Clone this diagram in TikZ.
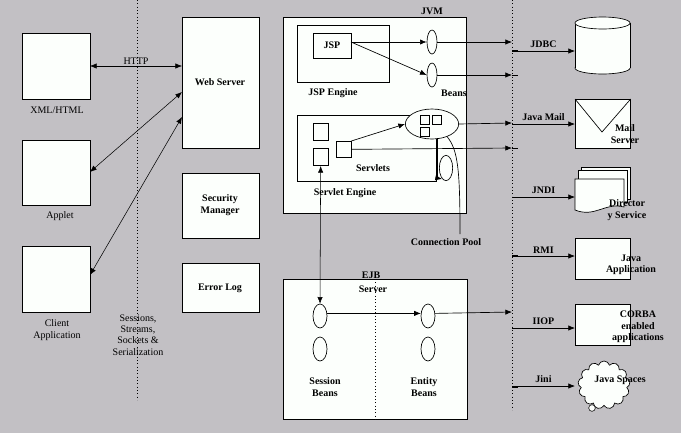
\documentclass[tikz,border=0pt]{standalone}
\usepackage{fontspec}
\setmainfont{Liberation Serif}
\usetikzlibrary{arrows.meta,shapes.symbols,shapes.geometric}
\definecolor{bg}{RGB}{194,192,196}
\definecolor{boxf}{RGB}{252,255,252}
\begin{document}
\begin{tikzpicture}[x=0.75pt,y=-0.75pt,
  box/.style={draw,fill=boxf,line width=0.5pt},
  bean/.style={draw,fill=boxf,ellipse,line width=0.5pt},
  arr/.style={-{Latex[length=5pt,width=4pt]},line width=0.5pt},
  darr/.style={{Latex[length=5pt,width=4pt]}-{Latex[length=5pt,width=4pt]},line width=0.4pt},
  lab/.style={font=\fontsize{7.5}{8.5}\selectfont\bfseries,align=center,inner sep=0pt},
  nlab/.style={font=\fontsize{7.5}{8.5}\selectfont,align=center,inner sep=0pt},
  dot/.style={dotted,line width=0.5pt}]
\fill[bg] (0,0) rectangle (681,433);
\useasboundingbox (0,0) rectangle (681,433);
% dotted dividers
\draw[dot] (137,0) -- (137,400);
\draw[dot] (512,0) -- (512,410);
\foreach \yy in {50,75,148,197,255,328,387} \draw[line width=0.4pt] (512,\yy) -- (518,\yy);
% clients
\node[box,minimum width=51pt,minimum height=49.5pt,anchor=north west] (xml) at (22,33) {};
\node[nlab] (xmll) at (57,110) {XML/HTML};
\node[box,minimum width=51pt,minimum height=48.75pt,anchor=north west] (applet) at (22,140) {};
\node[nlab] (appletl) at (60,216) {Applet};
\node[box,minimum width=51pt,minimum height=49.5pt,anchor=north west] (client) at (22,246) {};
\node[nlab] (clientl) at (57,330) {Client\\Application};
% web tier
\node[box,minimum width=57.75pt,minimum height=98.25pt,anchor=north west] (web) at (182,17) {};
\node[lab] (webl) at (220,82) {Web Server};
\node[box,minimum width=57.75pt,minimum height=48.75pt,anchor=north west,lab] (sec) at (182,173) {};
\node[lab] at (220,205) {Security\\Manager};
\node[box,minimum width=57.75pt,minimum height=36.75pt,anchor=north west] (err) at (182,263) {};
\node[lab] at (220,288) {Error Log};
\coordinate (h1) at (90,66); \coordinate (h2) at (182,66);
\draw[darr] (h1) -- node[nlab,above=1pt]{HTTP} (h2);
\coordinate (a1) at (90,172); \coordinate (a2) at (182,92);
\draw[darr] (a1) -- (a2);
\coordinate (c1) at (90,275); \coordinate (c2) at (182,117);
\draw[darr] (c1) -- (c2);
\node[nlab] (sess) at (138,335) {Sessions,\\Streams,\\Sockets \&\\Serialization};
% JVM
\node[box,minimum width=137.25pt,minimum height=147pt,anchor=north west] (jvm) at (283,17) {};
\node[lab] at (432,11) {JVM};
\node[box,minimum width=69pt,minimum height=42.75pt,anchor=north west] (jspe) at (297,25) {};
\node[lab] at (333,93) {JSP Engine};
\node[box,minimum width=28.5pt,minimum height=18.75pt,anchor=north west] (jsp) at (313,33) {};
\node[lab] at (332,45) {JSP};
\node[bean,minimum width=7.5pt,minimum height=18pt,inner sep=0pt] (b1) at (432,42) {};
\node[bean,minimum width=7.5pt,minimum height=18pt,inner sep=0pt] (b2) at (432,75) {};
\node[lab] at (454,93) {Beans};
\coordinate (jspo) at (351,42);
\draw[arr] (jspo) -- (b1.west);
\draw[arr] (jspo) -- (b2.west);
\coordinate (t1) at (512,42); \coordinate (t2) at (512,75);
\draw[arr] (b1.east) -- (t1);
\draw[arr] (b2.east) -- (t2);
\node[box,minimum width=104.25pt,minimum height=49.5pt,anchor=north west] (sve) at (297,115) {};
\node[lab] at (345,193) {Servlet Engine};
\node[box,minimum width=11pt,minimum height=13pt,anchor=north west] (s1) at (313,123) {};
\node[box,minimum width=11pt,minimum height=13pt,anchor=north west] (s2) at (313,148) {};
\node[box,minimum width=11pt,minimum height=12pt,anchor=north west] (s3) at (336,141) {};
\node[lab] at (373,168) {Servlets};
\node[bean,minimum width=40pt,minimum height=22.5pt,inner sep=0pt] (pool) at (432,124) {};
\node[box,minimum width=6pt,minimum height=6pt,anchor=north west] at (420,115) {};
\node[box,minimum width=6pt,minimum height=6pt,anchor=north west] at (432,115) {};
\node[box,minimum width=6pt,minimum height=6pt,anchor=north west] at (420,127) {};
\draw[arr] (s3.north east) -- (pool.west);
\coordinate (t3) at (512,123); \coordinate (t4) at (512,148);
\draw[arr] (pool.east) -- (t3);
\draw[arr] (s3.east) -- (t4);
\node[bean,minimum width=10pt,minimum height=19pt,inner sep=0pt,fill=none] (loop) at (446,168) {};
\coordinate (lp1) at (437,138); \coordinate (lp2) at (437,178); \coordinate (lp3) at (442,179);
\draw[line width=0.5pt] (lp1) -- (lp2);
\draw[-{Latex[length=5pt,width=4pt]},line width=0.4pt] (lp2) -- (lp3);
\coordinate (cp) at (460,234);
\draw[line width=0.5pt] (pool.-40) .. controls (458,150) and (460,170) .. (cp);
\node[lab] (cpl) at (446,242) {Connection Pool};
% EJB
\node[box,minimum width=138pt,minimum height=105pt,anchor=north west] (ejb) at (283,279) {};
\draw[dot] (375,279) -- (375,419);
\node[lab] at (371,275) {EJB};
\node[lab] at (373,289) {Server};
\node[bean,minimum width=10.5pt,minimum height=18pt,inner sep=0pt] (e1) at (320,316) {};
\node[bean,minimum width=10.5pt,minimum height=18pt,inner sep=0pt] (e2) at (320,349) {};
\node[bean,minimum width=10.5pt,minimum height=18pt,inner sep=0pt] (e3) at (428,316) {};
\node[bean,minimum width=10.5pt,minimum height=18pt,inner sep=0pt] (e4) at (428,349) {};
\node[lab] at (325,387) {Session\\Beans};
\node[lab] at (424,387) {Entity\\Beans};
\draw[darr] (s2.south) -- (e1.north);
\coordinate (t5) at (512,312);
\draw[arr] (e1.20) -- (e3.160);
\draw[arr] (e3.20) -- (t5);
% right side services
\foreach \n/\yy/\txt in {j1/51/JDBC,j2/124/Java Mail,j3/197/JNDI,j4/256/RMI,j5/328/IIOP,j6/386/Jini}{
  \coordinate (\n a) at (512,\yy); \coordinate (\n b) at (575,\yy);
  \draw[arr] (\n a) -- node[lab,above=2pt]{\txt} (\n b);
}
% cylinder
\draw[box] (602.5,68) ellipse[x radius=27.5,y radius=6];
\fill[boxf] (575,23) rectangle (630,68);
\draw[line width=0.5pt] (575,23) -- (575,68) (630,23) -- (630,68);
\draw[box] (602.5,23) ellipse[x radius=27.5,y radius=6];
% mail
\node[box,minimum width=41.25pt,minimum height=36.75pt,anchor=north west] (mail) at (575,99) {};
\draw[line width=0.5pt] (mail.north west) -- (602,132) -- (mail.north east);
\node[lab] at (625,134) {Mail\\Server};
% directory
\foreach \d in {6,3}{
 \draw[box] (575+\d,173-\d) -- (630+\d-6,173-\d) -- (630+\d-6,205-\d) -- (575+\d,205-\d) -- cycle;}
\draw[box] (575,179) -- (624,179) -- (624,207) .. controls (605,202) and (595,218) .. (575,210) -- cycle;
\node[lab] at (627,210) {Director\\y Service};
% java app
\node[box,minimum width=41.25pt,minimum height=30.75pt,anchor=north west] (japp) at (575,238) {};
\node[lab] at (631,265) {Java\\Application};
\node[box,minimum width=41.25pt,minimum height=30.75pt,anchor=north west] (corba) at (575,304) {};
\node[lab] at (638,327) {CORBA\\enabled\\applications};
% cloud
\node[cloud,draw,fill=boxf,cloud puffs=13,aspect=1.1,minimum width=39pt,minimum height=36pt,line width=0.5pt] (cloud) at (604,385) {};
\node[draw,circle,fill=boxf,inner sep=0pt,minimum size=5pt] at (592,408) {};
\node[lab] at (620,380) {Java Spaces};
\end{tikzpicture}
\end{document}
